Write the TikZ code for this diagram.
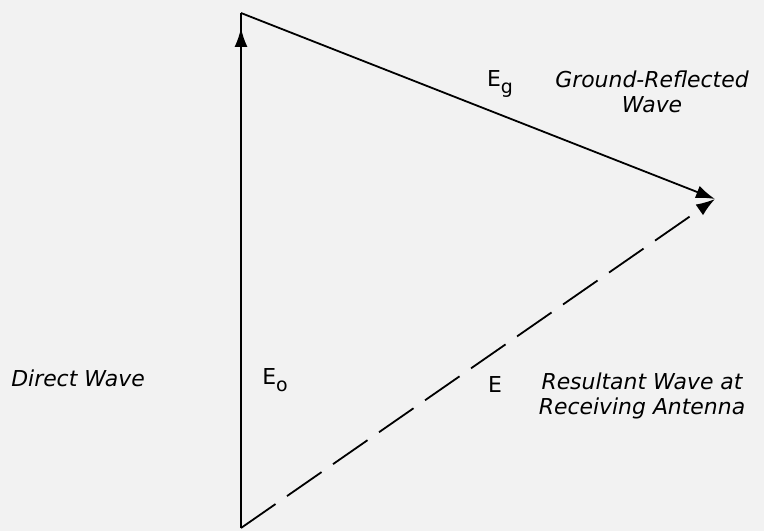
\documentclass[tikz,border=0pt]{standalone}
\usepackage{fontspec}
\setmainfont{DejaVu Sans}
\usetikzlibrary{arrows.meta}

\newcommand\lowsub[1]{\raisebox{-0.35em}{\fontsize{19}{19}\selectfont #1}}

\begin{document}
\begin{tikzpicture}[
  x=1bp, y=-1bp,
  lbl/.style={font=\fontsize{22}{25}\selectfont\itshape, align=center, inner sep=0pt},
  sym/.style={font=\fontsize{22}{25}\selectfont, inner sep=0pt},
  vec/.style={line width=1.8bp},
  arr/.style={-{Latex[length=19bp,width=13bp]}, line width=1.8bp}
]
\fill[black!5] (0,0) rectangle (764,531);
\useasboundingbox (0,0) rectangle (764,531);

% corners of the triangle
\coordinate (top) at (241,13);
\coordinate (bottom) at (241,528);
\coordinate (recv) at (715,199);
\coordinate (tip) at (241,28);

\draw[vec] (bottom) -- (top);
\draw[arr] (bottom) -- (tip);
\draw[arr] (top) -- (recv);
\draw[arr, dash pattern=on 42bp off 14bp] (bottom) -- (recv);

% labels
\node[lbl] (direct) at (78,378) {Direct Wave};
\node[sym] (eo) at (275,380) {E\lowsub{o}};
\node[sym] (eg) at (500,84) {E\lowsub{g}};
\node[lbl] (ground) at (652,92) {Ground-Reflected\\Wave};
\node[sym] (e) at (495,385) {E};
\node[lbl] (result) at (642,396) {Resultant Wave at\\Receiving Antenna};
\end{tikzpicture}
\end{document}
